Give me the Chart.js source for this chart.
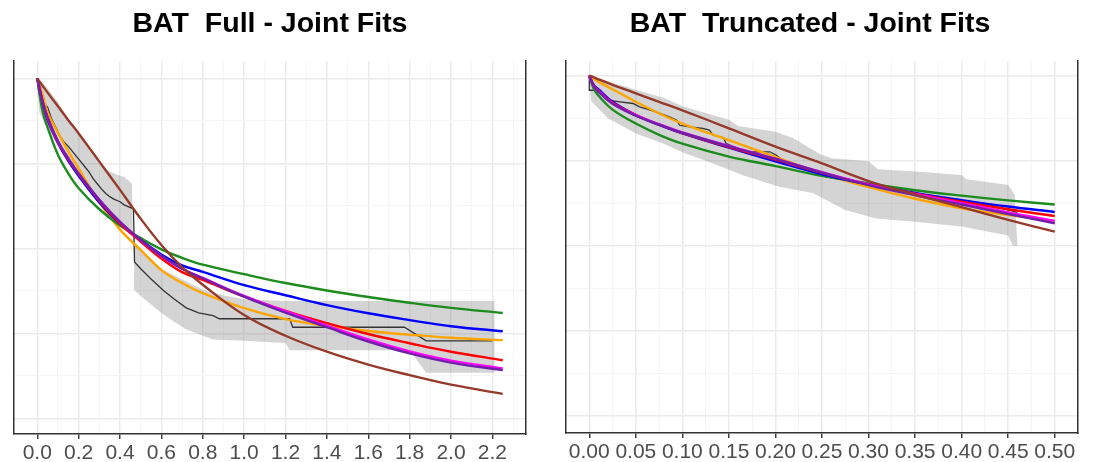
<!DOCTYPE html>
<html>
<head>
<meta charset="utf-8">
<script src="https://cdn.jsdelivr.net/npm/chart.js@4.4.0/dist/chart.umd.min.js"></script>
<style>
  body { margin: 0; background: #ffffff; width: 1102px; height: 462px; position: relative; overflow: hidden; }
  canvas { position: absolute; top: 0; }
  #full { left: 0; }
  #trunc { left: 540px; }
</style>
</head>
<body>
<canvas id="full" width="542" height="462"></canvas>
<canvas id="trunc" width="540" height="462"></canvas>
<script>
// ---- BAT Full : fitted curves ----
var fullTime = [0, 0.025, 0.05, 0.1, 0.15, 0.2, 0.3, 0.4, 0.5, 0.6, 0.7, 0.8, 1.0, 1.2, 1.4, 1.6, 1.8, 2.0, 2.25];
var fullGreen = [1, 0.905, 0.855, 0.775, 0.72, 0.677, 0.615, 0.567, 0.53, 0.497, 0.472, 0.452, 0.424, 0.398, 0.376, 0.357, 0.34, 0.325, 0.31];
var fullBlue = [1, 0.93, 0.877, 0.81, 0.757, 0.713, 0.635, 0.572, 0.525, 0.482, 0.45, 0.431, 0.392, 0.362, 0.333, 0.309, 0.289, 0.271, 0.256];
var fullRed = [1, 0.933, 0.882, 0.812, 0.762, 0.718, 0.64, 0.573, 0.52, 0.47, 0.43, 0.407, 0.358, 0.316, 0.28, 0.248, 0.221, 0.196, 0.171];
var fullMagenta = [1, 0.934, 0.884, 0.814, 0.764, 0.719, 0.642, 0.577, 0.524, 0.477, 0.44, 0.413, 0.36, 0.315, 0.273, 0.232, 0.197, 0.17, 0.147];
var fullPurple = [1, 0.935, 0.885, 0.815, 0.765, 0.72, 0.643, 0.578, 0.525, 0.478, 0.44, 0.412, 0.358, 0.311, 0.268, 0.226, 0.191, 0.164, 0.142];
var fullOrange = [1, 0.955, 0.9, 0.84, 0.785, 0.735, 0.635, 0.555, 0.495, 0.436, 0.398, 0.368, 0.324, 0.292, 0.272, 0.257, 0.246, 0.237, 0.23];
var fullBrown = [1, 0.979, 0.958, 0.918, 0.877, 0.838, 0.755, 0.672, 0.587, 0.51, 0.445, 0.393, 0.304, 0.243, 0.196, 0.158, 0.127, 0.099, 0.072];

// ---- BAT Full : Kaplan-Meier and its band ----
var fullKmTime = [0, 0.008, 0.03, 0.05, 0.07, 0.09, 0.11, 0.13, 0.15, 0.17, 0.19, 0.21, 0.23, 0.25, 0.27, 0.29, 0.31, 0.33, 0.35, 0.37, 0.4, 0.42, 0.45, 0.465, 0.47, 0.5, 0.55, 0.61, 0.66, 0.72, 0.78, 0.85, 0.88, 1.22, 1.235, 1.775, 1.88, 2.2];
var fullKmSurv = [1, 0.955, 0.93, 0.915, 0.88, 0.855, 0.83, 0.812, 0.8, 0.785, 0.77, 0.755, 0.74, 0.725, 0.705, 0.69, 0.675, 0.662, 0.652, 0.645, 0.637, 0.628, 0.62, 0.615, 0.46, 0.44, 0.41, 0.376, 0.352, 0.325, 0.31, 0.302, 0.293, 0.293, 0.268, 0.268, 0.228, 0.228];
var fullUpTime = [0, 0.05, 0.1, 0.15, 0.2, 0.25, 0.3, 0.34, 0.38, 0.42, 0.44, 0.458, 0.462, 0.5, 0.55, 0.6, 0.69, 0.8, 0.9, 1.0, 1.2, 2.21];
var fullUpper = [1, 0.97, 0.93, 0.88, 0.835, 0.79, 0.75, 0.73, 0.718, 0.71, 0.7, 0.69, 0.52, 0.5, 0.47, 0.44, 0.412, 0.378, 0.362, 0.35, 0.345, 0.345];
var fullLowTime = [0, 0.01, 0.05, 0.1, 0.15, 0.2, 0.25, 0.3, 0.35, 0.4, 0.45, 0.468, 0.47, 0.5, 0.55, 0.6, 0.66, 0.72, 0.79, 0.85, 1.0, 1.2, 1.22, 1.8, 1.88, 2.21];
var fullLower = [1, 0.9, 0.85, 0.8, 0.75, 0.71, 0.67, 0.63, 0.6, 0.57, 0.55, 0.54, 0.377, 0.36, 0.335, 0.31, 0.285, 0.262, 0.245, 0.232, 0.228, 0.222, 0.2, 0.2, 0.134, 0.134];

// ---- BAT Truncated : fitted curves ----
var truncTime = [0, 0.005, 0.011, 0.025, 0.05, 0.075, 0.1, 0.15, 0.2, 0.25, 0.3, 0.35, 0.4, 0.45, 0.5];
var truncGreen = [1, 0.96, 0.938, 0.9, 0.859, 0.826, 0.8, 0.762, 0.734, 0.705, 0.683, 0.663, 0.647, 0.633, 0.621];
var truncBlue = [1, 0.972, 0.957, 0.923, 0.884, 0.855, 0.83, 0.788, 0.748, 0.71, 0.68, 0.655, 0.634, 0.615, 0.599];
var truncRed = [1, 0.97, 0.953, 0.92, 0.884, 0.856, 0.831, 0.79, 0.753, 0.714, 0.68, 0.653, 0.629, 0.607, 0.587];
var truncMagenta = [1, 0.968, 0.952, 0.918, 0.884, 0.857, 0.833, 0.793, 0.756, 0.716, 0.68, 0.651, 0.625, 0.598, 0.573];
var truncPurple = [1, 0.968, 0.95, 0.917, 0.882, 0.856, 0.832, 0.792, 0.755, 0.715, 0.678, 0.648, 0.621, 0.593, 0.566];
var truncOrange = [1, 0.99, 0.98, 0.96, 0.923, 0.889, 0.859, 0.81, 0.761, 0.712, 0.672, 0.638, 0.61, 0.59, 0.572];
var truncBrown = [1, 0.995, 0.988, 0.973, 0.948, 0.923, 0.898, 0.845, 0.791, 0.742, 0.69, 0.65, 0.613, 0.576, 0.541];

// ---- BAT Truncated : Kaplan-Meier and its band ----
var truncKmTime = [0, 0, 0.006, 0.015, 0.02, 0.033, 0.047, 0.054, 0.065, 0.076, 0.086, 0.094, 0.097, 0.108, 0.122, 0.129, 0.133, 0.144, 0.147, 0.154, 0.165, 0.172, 0.194, 0.201, 0.208, 0.215, 0.229, 0.244, 0.254, 0.27, 0.3, 0.33, 0.36, 0.4, 0.43, 0.45, 0.46];
var truncKmSurv = [1, 0.957, 0.957, 0.943, 0.928, 0.923, 0.918, 0.908, 0.899, 0.889, 0.879, 0.869, 0.854, 0.849, 0.845, 0.84, 0.825, 0.818, 0.8, 0.793, 0.781, 0.776, 0.776, 0.766, 0.751, 0.742, 0.727, 0.717, 0.702, 0.695, 0.68, 0.665, 0.65, 0.633, 0.62, 0.605, 0.598];
var truncUpTime = [0, 0.03, 0.06, 0.08, 0.1, 0.126, 0.15, 0.16, 0.2, 0.22, 0.247, 0.26, 0.3, 0.31, 0.35, 0.4, 0.405, 0.425, 0.45, 0.457, 0.46];
var truncUpper = [1, 0.975, 0.95, 0.935, 0.91, 0.889, 0.87, 0.852, 0.835, 0.815, 0.77, 0.757, 0.748, 0.725, 0.718, 0.708, 0.695, 0.688, 0.678, 0.65, 0.5];
var truncLowTime = [0, 0.002, 0.02, 0.05, 0.08, 0.1, 0.12, 0.144, 0.165, 0.204, 0.24, 0.275, 0.308, 0.35, 0.4, 0.45, 0.455, 0.46];
var truncLower = [1, 0.925, 0.875, 0.83, 0.8, 0.775, 0.755, 0.73, 0.707, 0.673, 0.655, 0.605, 0.58, 0.57, 0.556, 0.53, 0.5, 0.5];

// ---- axes ----
var fullMajorTicks = [0, 0.2, 0.4, 0.6, 0.8, 1.0, 1.2, 1.4, 1.6, 1.8, 2.0, 2.2];
var fullMinorTicks = [0.1, 0.3, 0.5, 0.7, 0.9, 1.1, 1.3, 1.5, 1.7, 1.9, 2.1, 2.3];
var truncMajorTicks = [0, 0.05, 0.1, 0.15, 0.2, 0.25, 0.3, 0.35, 0.4, 0.45, 0.5];
var truncMinorTicks = [0.025, 0.075, 0.125, 0.175, 0.225, 0.275, 0.325, 0.375, 0.425, 0.475, 0.525];
var survMajorTicks = [0, 0.25, 0.5, 0.75, 1];
var survMinorTicks = [0.125, 0.375, 0.625, 0.875];

var FONT = "'Liberation Sans', Arial, Helvetica, sans-serif";

function isOn(list, v) {
  return list.some(function (t) { return Math.abs(t - v) < 1e-6; });
}

function pts(xs, ys) {
  return xs.map(function (x, i) { return { x: x, y: ys[i] }; });
}

function bandShape(upX, upY, lowX, lowY) {
  return pts(upX, upY).concat(pts(lowX, lowY).reverse());
}

function fit(xs, ys, color, order) {
  return {
    data: pts(xs, ys),
    borderColor: color,
    borderWidth: 2.4,
    tension: 0.4,
    fill: false,
    order: order,
  };
}

function makePanel(id, p) {
  var xTicks = p.major.concat(p.minor).sort(function (a, b) { return a - b; });
  var yTicks = survMajorTicks.concat(survMinorTicks).sort(function (a, b) { return a - b; });

  var datasets = [
    {
      data: bandShape(p.upX, p.upY, p.lowX, p.lowY),
      fill: "shape",
      backgroundColor: "rgba(120,120,120,0.32)",
      borderWidth: 0,
      order: 20,
    },
    {
      data: pts(p.kmX, p.kmY),
      borderColor: "#333333",
      borderWidth: 1.3,
      fill: false,
      order: 19,
    },
    fit(p.t, p.orange, "#ffa500", 8),
    fit(p.t, p.green, "#1c8c1c", 7),
    fit(p.t, p.blue, "#0000ff", 6),
    fit(p.t, p.red, "#ff0000", 5),
    fit(p.t, p.magenta, "#ff00ff", 4),
    fit(p.t, p.purple, "#7020a8", 3),
    fit(p.t, p.brown, "#953a2a", 2),
  ];

  new Chart(document.getElementById(id), {
    type: "line",
    data: { datasets: datasets },
    options: {
      responsive: false,
      animation: false,
      events: [],
      elements: { point: { radius: 0 }, line: { tension: 0 } },
      // title is centred between padLeft and the right padding
      layout: { padding: { left: p.padLeft, right: p.padRight, top: 0, bottom: 0 } },
      plugins: {
        legend: { display: false },
        tooltip: { enabled: false },
        title: {
          display: true,
          text: p.title,
          color: "#000000",
          font: { family: FONT, size: 28.5, weight: "bold" },
          padding: { top: 7, bottom: 19.8 },
        },
      },
      scales: {
        x: {
          type: "linear",
          min: p.xMin,
          max: p.xMax,
          afterBuildTicks: function (scale) {
            scale.ticks = xTicks.map(function (v) { return { value: v }; });
          },
          afterFit: function (scale) { scale.height = p.xHeight; },
          ticks: {
            autoSkip: false,
            maxRotation: 0,
            padding: 2,
            color: "#4d4d4d",
            font: { family: FONT, size: 21 },
            callback: function (v) {
              return isOn(p.major, v) ? v.toFixed(p.digits) : "";
            },
          },
          grid: {
            color: function (ctx) {
              return ctx.tick && isOn(p.major, ctx.tick.value) ? "#ebebeb" : "#f4f4f4";
            },
            lineWidth: function (ctx) {
              return ctx.tick && isOn(p.major, ctx.tick.value) ? 1.5 : 0.9;
            },
            tickLength: 5,
            tickWidth: 1.4,
            tickColor: function (ctx) {
              return ctx.tick && isOn(p.major, ctx.tick.value) ? "#333333" : "rgba(0,0,0,0)";
            },
          },
          border: { color: "#333333", width: 1.5 },
        },
        y: {
          type: "linear",
          min: p.yMin,
          max: p.yMax,
          afterBuildTicks: function (scale) {
            scale.ticks = yTicks.map(function (v) { return { value: v }; });
          },
          afterFit: function (scale) { scale.width = p.yWidth; },
          ticks: { display: false },
          grid: {
            drawTicks: false,
            color: function (ctx) {
              return ctx.tick && isOn(survMajorTicks, ctx.tick.value) ? "#ebebeb" : "#f4f4f4";
            },
            lineWidth: function (ctx) {
              return ctx.tick && isOn(survMajorTicks, ctx.tick.value) ? 1.5 : 0.9;
            },
          },
          border: { color: "#333333", width: 1.5 },
        },
        yr: {
          type: "linear",
          position: "right",
          min: 0,
          max: 1,
          afterFit: function (scale) { scale.width = 0; },
          ticks: { display: false },
          grid: { display: false, drawTicks: false },
          border: { color: "#333333", width: 1.5 },
        },
      },
    },
  });
}

makePanel("full", {
  title: "BAT  Full - Joint Fits",
  t: fullTime, green: fullGreen, blue: fullBlue, red: fullRed, magenta: fullMagenta,
  purple: fullPurple, orange: fullOrange, brown: fullBrown,
  kmX: fullKmTime, kmY: fullKmSurv,
  upX: fullUpTime, upY: fullUpper, lowX: fullLowTime, lowY: fullLower,
  major: fullMajorTicks, minor: fullMinorTicks, digits: 1,
  xMin: -0.1125, xMax: 2.3625, yMin: -0.046, yMax: 1.051,
  padLeft: 14, yWidth: 0, padRight: 16, xHeight: 28,
});

makePanel("trunc", {
  title: "BAT  Truncated - Joint Fits",
  t: truncTime, green: truncGreen, blue: truncBlue, red: truncRed, magenta: truncMagenta,
  purple: truncPurple, orange: truncOrange, brown: truncBrown,
  kmX: truncKmTime, kmY: truncKmSurv,
  upX: truncUpTime, upY: truncUpper, lowX: truncLowTime, lowY: truncLower,
  major: truncMajorTicks, minor: truncMinorTicks, digits: 2,
  xMin: -0.025, xMax: 0.525, yMin: -0.051, yMax: 1.043,
  padLeft: 1, yWidth: 25, padRight: 1, xHeight: 29,
});
</script>
</body>
</html>
